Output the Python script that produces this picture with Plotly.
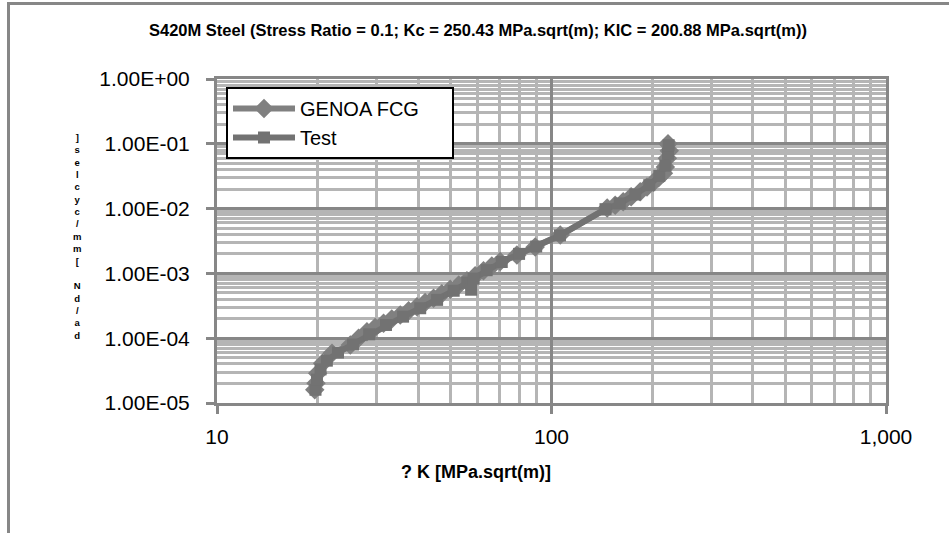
import plotly.graph_objects as go

# ---- data ----
genoa_k = [19.6, 19.77, 19.99, 20.69, 22.07, 25.03, 26.5, 28.07, 29.7, 31.47, 33.3, 35.3,
           37.4, 39.6, 41.9, 44.4, 47.0, 49.8, 52.8, 55.87, 59.1, 62.63, 66.3, 70.25,
           78.81, 89.39, 106.2, 146.7, 155.0, 163.8, 173.0, 184.1, 193.0, 201.8, 209.0,
           216.1, 219.0, 222.0, 225.0, 223.0]
genoa_dadn = [1.6e-5, 2.01e-5, 2.87e-5, 4.1e-5, 5.85e-5, 7.85e-5, 1.0e-4, 1.26e-4, 1.46e-4, 1.7e-4,
              1.97e-4, 2.28e-4, 2.65e-4, 3.06e-4, 3.55e-4, 4.13e-4, 4.85e-4, 5.69e-4, 6.6e-4, 7.71e-4,
              9.2e-4, 1.1e-3, 1.3e-3, 1.52e-3, 1.92e-3, 2.55e-3, 3.91e-3, 1.02e-2, 1.13e-2, 1.28e-2,
              1.52e-2, 1.82e-2, 2.15e-2, 2.55e-2, 3.0e-2, 3.51e-2, 4.4e-2, 6.0e-2, 7.8e-2, 1.0e-1]

test_k = [19.7, 19.9, 20.4, 21.3, 23.0, 25.5, 28.5, 32.0, 36.0, 40.5, 45.5, 51.0, 56.0,
          57.5, 58.5, 64.0, 71.0, 80.0, 90.0, 106.0, 145.0, 160.0, 178.0, 196.0, 210.0,
          219.0, 223.0, 224.0]
test_dadn = [1.6e-5, 2.3e-5, 3.3e-5, 4.5e-5, 6.0e-5, 8.0e-5, 1.15e-4, 1.6e-4, 2.15e-4, 2.9e-4,
             3.9e-4, 5.4e-4, 7.2e-4, 5.6e-4, 8.3e-4, 1.12e-3, 1.5e-3, 2.0e-3, 2.6e-3, 3.85e-3,
             9.8e-3, 1.2e-2, 1.65e-2, 2.3e-2, 3.2e-2, 4.6e-2, 7.0e-2, 9.5e-2]

y_tickvals = [1e-5, 1e-4, 1e-3, 1e-2, 1e-1, 1]
y_ticktext = ["1.00E-05", "1.00E-04", "1.00E-03", "1.00E-02", "1.00E-01", "1.00E+00"]
x_tickvals = [10, 100, 1000]
x_ticktext = ["10", "100", "1,000"]

title_text = "S420M Steel (Stress Ratio = 0.1; Kc = 250.43 MPa.sqrt(m); KIC = 200.88 MPa.sqrt(m))"
x_title = "? K [MPa.sqrt(m)]"
y_title = "da/dN [mm/cycles]"

W, H = 949, 533
L, R, T, B = 217, 63, 79, 130
pw, ph = W - L - R, H - T - B

def px_x(x):
    return (x - L) / pw

def px_y(y):
    return (H - B - y) / ph

FONT = "Liberation Sans"
AX = "#878787"
MINOR = "#b5b5b5"

fig = go.Figure()
fig.add_trace(go.Scatter(
    x=genoa_k, y=genoa_dadn, mode="lines+markers", name="GENOA FCG\u00a0\u00a0\u00a0\u00a0\u00a0",
    line=dict(color="#808080", width=6),
    marker=dict(symbol="diamond", size=15, color="#808080")))
fig.add_trace(go.Scatter(
    x=test_k, y=test_dadn, mode="lines+markers", name="Test",
    line=dict(color="#727272", width=6),
    marker=dict(symbol="square", size=12, color="#727272")))

common = dict(
    type="log", showline=True, mirror=True, linecolor=AX, linewidth=3,
    showgrid=True, gridcolor=AX, gridwidth=3, zeroline=False,
    ticks="outside", ticklen=8, tickwidth=3, tickcolor=AX,
    minor=dict(dtick="D1", showgrid=True, gridcolor=MINOR, gridwidth=3, ticks=""),
    tickfont=dict(family=FONT, size=21, color="black"),
)
fig.update_xaxes(range=[1, 3], tickvals=x_tickvals, ticktext=x_ticktext,
                 ticklabelstandoff=5, **common)
fig.update_yaxes(range=[-5, 0], tickvals=y_tickvals, ticktext=y_ticktext,
                 ticklabelstandoff=12, **common)

# stacked, upright characters of the y-axis title (read bottom to top)
stacked = "<br>".join(ch if ch != " " else "\u00a0" for ch in reversed(y_title))

annotations = [
    dict(text=title_text, x=px_x(478), y=px_y(30), xref="paper", yref="paper",
         showarrow=False, xanchor="center", yanchor="middle",
         font=dict(family=FONT, size=16.5, color="black", weight="bold")),
    dict(text=x_title, x=px_x(476), y=px_y(472), xref="paper", yref="paper",
         showarrow=False, xanchor="center", yanchor="middle",
         font=dict(family=FONT, size=18, color="black", weight="bold")),
    dict(text=stacked, x=px_x(77), y=px_y(237), xref="paper", yref="paper",
         showarrow=False, xanchor="center", yanchor="middle", align="center",
         font=dict(family=FONT, size=9.5, color="black", weight="bold")),
]

fig.update_layout(
    width=W, height=H,
    margin=dict(l=L, r=R, t=T, b=B),
    paper_bgcolor="white", plot_bgcolor="white",
    showlegend=True,
    legend=dict(x=px_x(226), y=px_y(87), xanchor="left", yanchor="top",
                bgcolor="white", bordercolor="black", borderwidth=2,
                font=dict(family=FONT, size=20, color="black"),
                itemwidth=62),
    annotations=annotations,
    shapes=[dict(type="rect", xref="paper", yref="paper",
                 x0=px_x(8.5), x1=px_x(970), y0=px_y(560), y1=px_y(3.5),
                 line=dict(color=AX, width=3), fillcolor="rgba(0,0,0,0)")],
)

fig.write_html("out.html")
